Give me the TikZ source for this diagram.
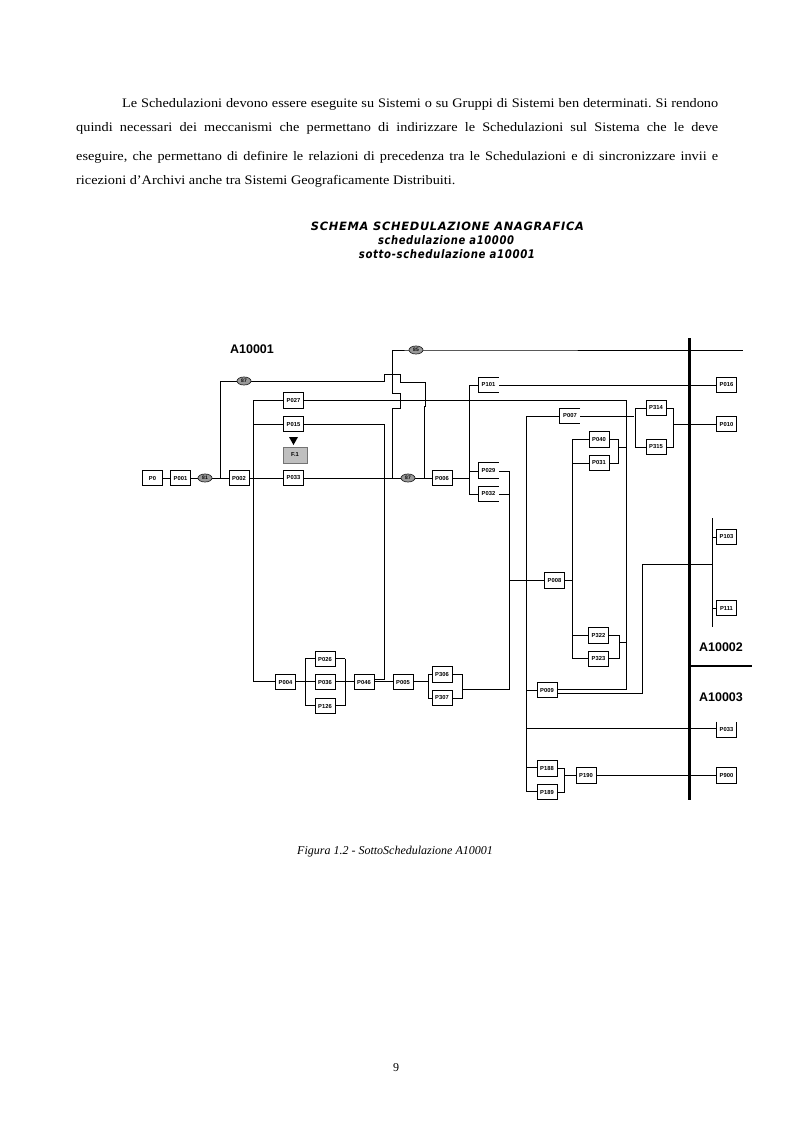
\documentclass[tikz,border=0pt]{standalone}
\usetikzlibrary{shapes.geometric}
\usepackage{fontspec}
\setmainfont{Liberation Serif}
\newfontfamily\bodyf[FakeStretch=1.1]{Liberation Serif}
\newfontfamily\lbl{Liberation Sans}
\newfontfamily\ttl[LetterSpace=6]{DejaVu Sans}
\frenchspacing
\begin{document}
\begin{tikzpicture}[x=1pt,y=-1pt,
  wire/.style={draw=black,line width=1pt},
  pbox/.style={minimum width=20pt,minimum height=15.5pt,inner sep=0pt,font=\lbl\bfseries\fontsize{5.8}{6}\selectfont},
  boxed/.style={pbox,draw=black,line width=1pt,fill=white},
  openb/.style={pbox,fill=white},
  blob/.style={ellipse,draw=black!85,fill=black!40,line width=0.7pt,minimum width=14pt,minimum height=8pt,inner sep=0pt,font=\lbl\bfseries\fontsize{5}{5}\selectfont},
  body/.style={anchor=base west,inner sep=0pt,font=\bodyf\fontsize{13}{14}\selectfont},
  big/.style={font=\lbl\bfseries\fontsize{12.5}{14}\selectfont,inner sep=0pt},
  ttlb/.style={inner sep=0pt}]
\useasboundingbox (0,0) rectangle (793,1123);
\fill[white] (0,0) rectangle (793,1123);
% paragraph
\node[body] (l1) at (122,108) {\hbox to 596pt{Le Schedulazioni devono essere eseguite su Sistemi o su Gruppi di Sistemi ben determinati. Si rendono}};
\node[body] (l2) at (76,132) {\hbox to 642pt{quindi necessari dei meccanismi che permettano di indirizzare le Schedulazioni sul Sistema che le deve}};
\node[body] (l3) at (76,160.5) {\hbox to 642pt{eseguire, che permettano di definire le relazioni di precedenza tra le Schedulazioni e di sincronizzare invii e}};
\node[body] (l4) at (76,184.5) {ricezioni d’Archivi anche tra Sistemi Geograficamente Distribuiti.};
% title
\node[ttlb] (t1) at (447.5,226) {\resizebox{273pt}{8.5pt}{\ttl\bfseries\itshape SCHEMA SCHEDULAZIONE ANAGRAFICA}};
\node[ttlb] (t2) at (446,240) {\resizebox{136pt}{9pt}{\ttl\bfseries\itshape schedulazione a10000}};
\node[ttlb] (t3) at (447,254) {\resizebox{176pt}{9pt}{\ttl\bfseries\itshape sotto-schedulazione a10001}};
% coordinates
\coordinate (vL) at (253,400.5);
\coordinate (v220) at (220.7,478);
\coordinate (j392) at (392,478);
\coordinate (j424) at (424,478);
\coordinate (j469) at (469,478);
\coordinate (r626) at (626.5,400.5);
\coordinate (r526) at (526,416);
\coordinate (b509) at (509,689);
\coordinate (e743) at (743,350);
% wires
\draw[wire] (153,478) -- (442,478);
\draw[wire] (442,478) -- (j469);
\draw[wire] (v220) |- (244,381.5) -- (384,381.5) -- (384,374) -- (400,374) -- (400,382) -- (425,382) -- (425,406) -- (424,406) -- (j424);
\draw[wire] (j392) -- (392,408) -- (400,408) -- (400,393) -- (392,393) |- (416,350) -- (e743);
\draw[wire] (253,681) -- (vL) -- (r626) -- (626.5,689) -- (547,689);
\draw[wire] (253,424) -- (384,424) -- (384,679) -- (364,679);
\draw[wire] (253,681) -- (403,681);
\draw[wire] (305,658.5) -- (305,705.5);
\draw[wire] (345,658.5) -- (345,705.5);
\draw[wire] (305,658.5) -- (345,658.5);
\draw[wire] (305,705.5) -- (345,705.5);
\draw[wire] (403,681) -- (428,681);
\draw[wire] (442,674.5) -- (428,674.5) -- (428,698) -- (442,698);
\draw[wire] (442,674.5) -- (462,674.5) -- (462,698) -- (442,698);
\draw[wire] (462,689) -- (b509) -- (509,471) -- (488,471);
\draw[wire] (488,494) -- (509,494);
\draw[wire] (488,385) -- (469,385) -- (469,494) -- (488,494);
\draw[wire] (469,471) -- (488,471);
\draw[wire] (488,385) -- (726,385);
\draw[wire] (509,580.5) -- (572,580.5);
\draw[wire] (570,416) -- (r526) -- (526,791) -- (547,791);
\draw[wire] (570,416) -- (634,416);
\draw[wire] (656,408) -- (635,408) -- (635,447) -- (656,447);
\draw[wire] (656,408) -- (673.7,408) -- (673.7,447) -- (656,447);
\draw[wire] (673.7,424) -- (726,424);
\draw[wire] (599,439.5) -- (572.5,439.5) -- (572.5,658) -- (598,658);
\draw[wire] (572.5,463) -- (599,463);
\draw[wire] (599,439.5) -- (618.7,439.5) -- (618.7,463) -- (599,463);
\draw[wire] (618.7,447) -- (626.5,447);
\draw[wire] (572.5,635.5) -- (619,635.5) -- (619,658) -- (598,658);
\draw[wire] (619,642) -- (626.5,642);
\draw[wire] (526,690) -- (547,690);
\draw[wire] (547,693.5) -- (642.7,693.5) -- (642.7,564) -- (712,564);
\draw[wire] (712,518) -- (712,627);
\draw[wire] (712,537) -- (726,537);
\draw[wire] (712,608) -- (726,608);
\draw[wire] (526,728) -- (726,728);
\draw[wire] (526,767.5) -- (547,767.5);
\draw[wire] (547,768) -- (564.7,768) -- (564.7,792) -- (547,792);
\draw[wire] (564.7,775.5) -- (726,775.5);
% thick bars
\draw[line width=3.2pt] (689.3,338) -- (689.3,800);
\draw[line width=2.4pt] (689.3,666) -- (752,666);
% boxes
\foreach \n/\x/\y/\t in {a0/152.5/478/P0, a1/180.5/478/P001, a2/239/478/P002, a3/293.5/478/P033, a4/293.5/400.5/P027, a5/293.5/424/P015, a6/442/478/P006,
 b1/726.5/385/P016, b2/726.5/424/P010, b3/656/408/P314, b4/656/447/P315, b5/599/439.5/P040, b6/599/463/P031,
 c1/285.5/682/P004, c2/325/659/P026, c3/325/682/P036, c4/325/706/P126, c5/364/682/P046, c6/403/682/P005, c7/442/674.5/P306, c8/442/698/P307,
 d1/554.5/580.5/P008, d2/598.5/635.5/P322, d3/598.5/659/P323, d4/547/690/P009, d5/547/768.5/P188, d6/547/792/P189, d7/586/775.5/P190, d8/726.5/775.5/P900, d9/726.5/537/P103, d10/726.5/608/P111}
  {\node[boxed] (\n) at (\x,\y) {\t};}
% boxes with a missing side
\foreach \n/\x/\y/\t in {e1/488.5/385/P101, e2/488.5/470.5/P029, e3/488.5/494/P032, e4/570/416/P007}
  {\node[openb] (\n) at (\x,\y) {\t};
   \draw[wire] (\n.north east) -- (\n.north west) -- (\n.south west) -- (\n.south east);}
\node[openb] (e5) at (726.5,729.5) {P033};
\draw[wire] (e5.north west) -- (e5.south west) -- (e5.south east) -- (e5.north east);
% fault marker
\node[draw=black!55,fill=black!25,minimum width=24pt,minimum height=16pt,inner sep=0pt,font=\lbl\bfseries\fontsize{5.8}{6}\selectfont] (f1) at (295,455) {F.1};
\fill (289,437) -- (298,437) -- (293.5,445) -- cycle;
% blobs
\node[blob] (o1) at (205,478) {81};
\node[blob] (o2) at (244,381) {87};
\node[blob] (o3) at (408,478) {87};
\node[blob] (o4) at (416,350) {85};
% labels
\node[big] (A1) at (252,349) {A10001};
\node[big] (A2) at (721,647) {A10002};
\node[big] (A3) at (721,697) {A10003};
\node[inner sep=0pt,font=\itshape\fontsize{12}{13}\selectfont] (cap) at (395,851.5) {Figura 1.2 - SottoSchedulazione A10001};
\node[inner sep=0pt,font=\fontsize{12}{14}\selectfont] (pg) at (396,1067.5) {9};
\end{tikzpicture}
\end{document}
